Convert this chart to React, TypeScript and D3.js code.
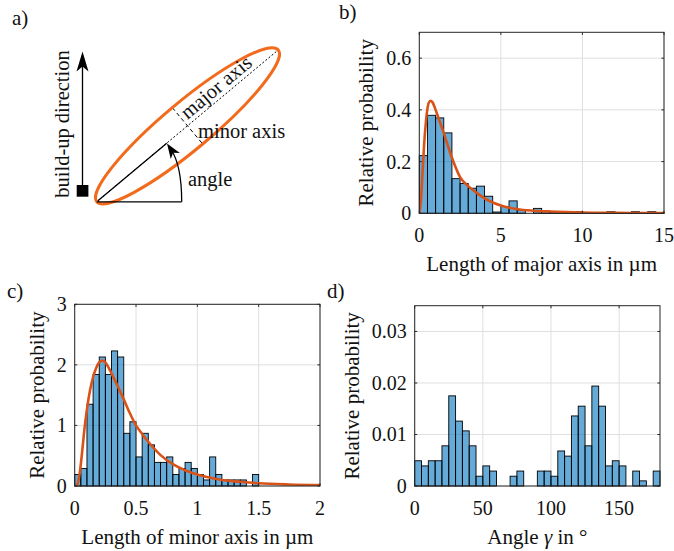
import React from "react";
import * as d3 from "d3";

// ---------- data ----------
const majorBinWidth = 0.5;
const majorBins = [0.223, 0.379, 0.369, 0.311, 0.134, 0.115, 0.097, 0.105, 0.066, 0.005, 0.026, 0.048, 0.013, 0, 0.019, 0.009, 0.005, 0.005, 0.004, 0.006, 0.003, 0.002, 0.002, 0.006, 0.002, 0.001, 0.006, 0.001, 0.006, 0.002];
const majorFitX = [0, 0.1, 0.2, 0.3, 0.4, 0.5, 0.6, 0.7, 0.8, 1.0, 1.25, 1.5, 2, 2.5, 3, 3.5, 4, 5, 6, 7, 8, 10, 12, 15];
const majorFitY = [0, 0.05, 0.16, 0.27, 0.35, 0.405, 0.43, 0.435, 0.43, 0.4, 0.355, 0.31, 0.215, 0.14, 0.105, 0.08, 0.058, 0.03, 0.016, 0.01, 0.007, 0.003, 0.0015, 0.0005];
const majorXTicks = [0, 5, 10, 15];
const majorYTicks = [0, 0.2, 0.4, 0.6];

const minorBinWidth = 0.05;
const minorBins = [0.19, 0.29, 1.35, 1.84, 2.13, 1.84, 2.23, 2.13, 0.87, 1.06, 0.48, 0.87, 0.68, 0.39, 0.39, 0.48, 0.19, 0.29, 0.39, 0.29, 0.19, 0.1, 0.48, 0.19, 0.1, 0.1, 0.1, 0.1, 0, 0.19, 0, 0, 0, 0, 0, 0, 0, 0, 0, 0];
const minorFitX = [0.02, 0.04, 0.06, 0.08, 0.1, 0.125, 0.15, 0.175, 0.2, 0.225, 0.25, 0.275, 0.3, 0.35, 0.4, 0.45, 0.5, 0.55, 0.6, 0.7, 0.8, 0.9, 1.0, 1.1, 1.2, 1.35, 1.5, 1.75, 2.0];
const minorFitY = [0, 0.2, 0.55, 0.95, 1.27, 1.58, 1.8, 1.95, 2.04, 2.07, 2.04, 1.96, 1.86, 1.65, 1.43, 1.2, 1.0, 0.86, 0.73, 0.51, 0.36, 0.26, 0.19, 0.14, 0.1, 0.07, 0.045, 0.025, 0.015];
const minorXTicks = [0, 0.5, 1, 1.5, 2];
const minorYTicks = [0, 1, 2, 3];

const angleBinWidth = 5;
const angleBins = [0.0049, 0.0039, 0.0049, 0.0049, 0.0078, 0.0175, 0.0126, 0.0107, 0.0078, 0.0019, 0.0039, 0.0029, 0, 0, 0.0019, 0.0029, 0, 0, 0.0029, 0.0029, 0.0019, 0.0068, 0.0058, 0.0136, 0.0155, 0.0078, 0.0194, 0.0155, 0.0039, 0.0049, 0.0039, 0, 0.0029, 0.001, 0, 0.0029];
const angleXTicks = [0, 50, 100, 150];
const angleYTicks = [0, 0.01, 0.02, 0.03];

const FONT = '"Liberation Serif", "Times New Roman", "DejaVu Serif", serif';
const TXT = "#111";
const AX = "#262626";

type PanelProps = {
  id: string;
  left: number; top: number; width: number; height: number;
  xMax: number; yMax: number;
  binWidth: number; bins: number[];
  fitX?: number[]; fitY?: number[];
  xTicks: number[]; yTicks: number[];
  xLabel: React.ReactNode; yLabelX: number;
};

function Panel(p: PanelProps) {
  const x = d3.scaleLinear().domain([0, p.xMax]).range([p.left, p.left + p.width]);
  const y = d3.scaleLinear().domain([0, p.yMax]).range([p.top + p.height, p.top]);
  const bottom = p.top + p.height;
  const right = p.left + p.width;
  const tl = 2.6;
  let fitPath: string | null = null;
  if (p.fitX && p.fitY) {
    const pts = p.fitX.map((v, i) => [v, p.fitY![i]] as [number, number]);
    fitPath = d3.line<[number, number]>().x(d => x(d[0])).y(d => y(d[1])).curve(d3.curveMonotoneX)(pts);
  }
  return (
    <g>
      <defs>
        <clipPath id={p.id}>
          <rect x={p.left} y={p.top} width={p.width} height={p.height} />
        </clipPath>
      </defs>
      <rect x={p.left} y={p.top} width={p.width} height={p.height} fill="#fff" />
      {p.xTicks.map(t => (
        <line key={"gx" + t} x1={x(t)} x2={x(t)} y1={p.top} y2={bottom} stroke="#dfdfdf" strokeWidth={1} />
      ))}
      {p.yTicks.map(t => (
        <line key={"gy" + t} x1={p.left} x2={right} y1={y(t)} y2={y(t)} stroke="#dfdfdf" strokeWidth={1} />
      ))}
      {p.bins.map((v, i) => v > 0 ? (
        <rect key={"b" + i} x={x(i * p.binWidth)} width={x((i + 1) * p.binWidth) - x(i * p.binWidth)}
          y={y(v)} height={y(0) - y(v)} fill="rgb(0,114,189)" fillOpacity={0.6} stroke="#000" strokeWidth={0.9} />
      ) : null)}
      {fitPath && (
        <path d={fitPath} fill="none" stroke="#d95319" strokeWidth={2.6} clipPath={`url(#${p.id})`} strokeLinejoin="round" />
      )}
      <rect x={p.left} y={p.top} width={p.width} height={p.height} fill="none" stroke={AX} strokeWidth={1} />
      {p.xTicks.map(t => (
        <g key={"tx" + t}>
          <line x1={x(t)} x2={x(t)} y1={bottom} y2={bottom - tl} stroke={AX} />
          <line x1={x(t)} x2={x(t)} y1={p.top} y2={p.top + tl} stroke={AX} />
          <text x={x(t)} y={bottom + 28.5} textAnchor="middle" fontSize={20} fill={TXT}>{String(t)}</text>
        </g>
      ))}
      {p.yTicks.map(t => (
        <g key={"ty" + t}>
          <line x1={p.left} x2={p.left + tl} y1={y(t)} y2={y(t)} stroke={AX} />
          <line x1={right} x2={right - tl} y1={y(t)} y2={y(t)} stroke={AX} />
          <text x={p.left - 8} y={y(t) + 7} textAnchor="end" fontSize={20} fill={TXT}>{String(t)}</text>
        </g>
      ))}
      <text x={(p.left + right) / 2} y={bottom + 58} textAnchor="middle" fontSize={21} fill={TXT}>{p.xLabel}</text>
      <text transform={`translate(${p.yLabelX},${(p.top + bottom) / 2}) rotate(-90)`} textAnchor="middle" fontSize={21} fill={TXT}>Relative probability</text>
    </g>
  );
}

function arrowHead(tx: number, ty: number, ux: number, uy: number, L: number, W: number, N: number) {
  const nx = -uy, ny = ux;
  const bx = tx - L * ux, by = ty - L * uy;
  const p1 = [bx + W * nx, by + W * ny];
  const p2 = [tx - (L - N) * ux, ty - (L - N) * uy];
  const p3 = [bx - W * nx, by - W * ny];
  return `M${tx},${ty}L${p1[0]},${p1[1]}L${p2[0]},${p2[1]}L${p3[0]},${p3[1]}Z`;
}

function Sketch() {
  const cx = 187.5, cy = 125.8, a = 118.3, b = 23.7, th = 39.9;
  const rad = (th * Math.PI) / 180;
  const c = Math.cos(rad), s = Math.sin(rad);
  const v1 = [cx - a * c, cy + a * s];
  const v2 = [cx + a * c, cy - a * s];
  const t = 91.2;
  const solidEnd = [v1[0] + t * c, v1[1] - t * s];
  const m1 = [cx - b * s, cy - b * c];
  const m2 = [cx + b * s, cy + b * c];
  const arcTip = [167, 143.5];
  const ad = [-11, -16.5];
  const al = Math.hypot(ad[0], ad[1]);
  const tPos = 165;
  const off = 4.5;
  const mx = v1[0] + tPos * c - off * s;
  const my = v1[1] - tPos * s - off * c;
  return (
    <g fill={TXT}>
      <text x={12} y={25} fontSize={21}>a)</text>
      <rect x={76.7} y={185} width={11.7} height={11.7} fill="#000" />
      <line x1={82.5} x2={82.5} y1={186} y2={62} stroke="#000" strokeWidth={1.3} />
      <path d={arrowHead(82.5, 51.5, 0, -1, 20, 6, 5)} fill="#000" />
      <text transform="translate(68.5,124) rotate(-90)" textAnchor="middle" fontSize={20.5}>build-up direction</text>
      <line x1={v1[0]} y1={v1[1]} x2={v2[0]} y2={v2[1]} stroke="#000" strokeWidth={1} strokeDasharray="2,2" />
      <line x1={v1[0]} y1={v1[1]} x2={solidEnd[0]} y2={solidEnd[1]} stroke="#000" strokeWidth={1.3} />
      <line x1={m1[0]} y1={m1[1]} x2={m2[0]} y2={m2[1]} stroke="#000" strokeWidth={1} strokeDasharray="4,3" />
      <ellipse cx={cx} cy={cy} rx={a} ry={b} transform={`rotate(${-th},${cx},${cy})`} fill="none" stroke="#f26a1b" strokeWidth={3} />
      <line x1={v1[0]} y1={201.8} x2={181.7} y2={201.8} stroke="#000" strokeWidth={1.3} />
      <path d={`M181.7,201.8 C181.7,180 178,160 ${arcTip[0] + 4},${arcTip[1] + 6}`} fill="none" stroke="#000" strokeWidth={1.3} />
      <path d={arrowHead(arcTip[0], arcTip[1], ad[0] / al, ad[1] / al, 15, 5.5, 4)} fill="#000" />
      <text x={188} y={186} fontSize={20.5}>angle</text>
      <text x={198} y={137.5} fontSize={20.5}>minor axis</text>
      <text transform={`translate(${mx},${my}) rotate(${-th})`} textAnchor="middle" fontSize={20.5}>major axis</text>
    </g>
  );
}

export default function App() {
  return (
    <svg width={674} height={551} viewBox="0 0 674 551"
      style={{ display: "block", position: "absolute", left: 0, top: 0, background: "#fff", fontFamily: FONT }}>
      <rect width={674} height={551} fill="#fff" />
      <Sketch />
      <text x={339} y={19} fontSize={21} fill={TXT}>b)</text>
      <text x={7} y={298} fontSize={21} fill={TXT}>c)</text>
      <text x={327} y={298} fontSize={21} fill={TXT}>d)</text>
      <Panel id="clipB" left={419.3} top={32.3} width={244.7} height={181} xMax={15} yMax={0.7}
        binWidth={majorBinWidth} bins={majorBins} fitX={majorFitX} fitY={majorFitY}
        xTicks={majorXTicks} yTicks={majorYTicks} xLabel="Length of major axis in µm" yLabelX={373} />
      <Panel id="clipC" left={74.7} top={304.3} width={245.3} height={181.7} xMax={2} yMax={3}
        binWidth={minorBinWidth} bins={minorBins} fitX={minorFitX} fitY={minorFitY}
        xTicks={minorXTicks} yTicks={minorYTicks} xLabel="Length of minor axis in µm" yLabelX={44} />
      <Panel id="clipD" left={414.7} top={305.7} width={245.3} height={180.3} xMax={180} yMax={0.035}
        binWidth={angleBinWidth} bins={angleBins}
        xTicks={angleXTicks} yTicks={angleYTicks}
        xLabel={<>Angle <tspan fontStyle="italic">γ</tspan> in °</>} yLabelX={359} />
    </svg>
  );
}
